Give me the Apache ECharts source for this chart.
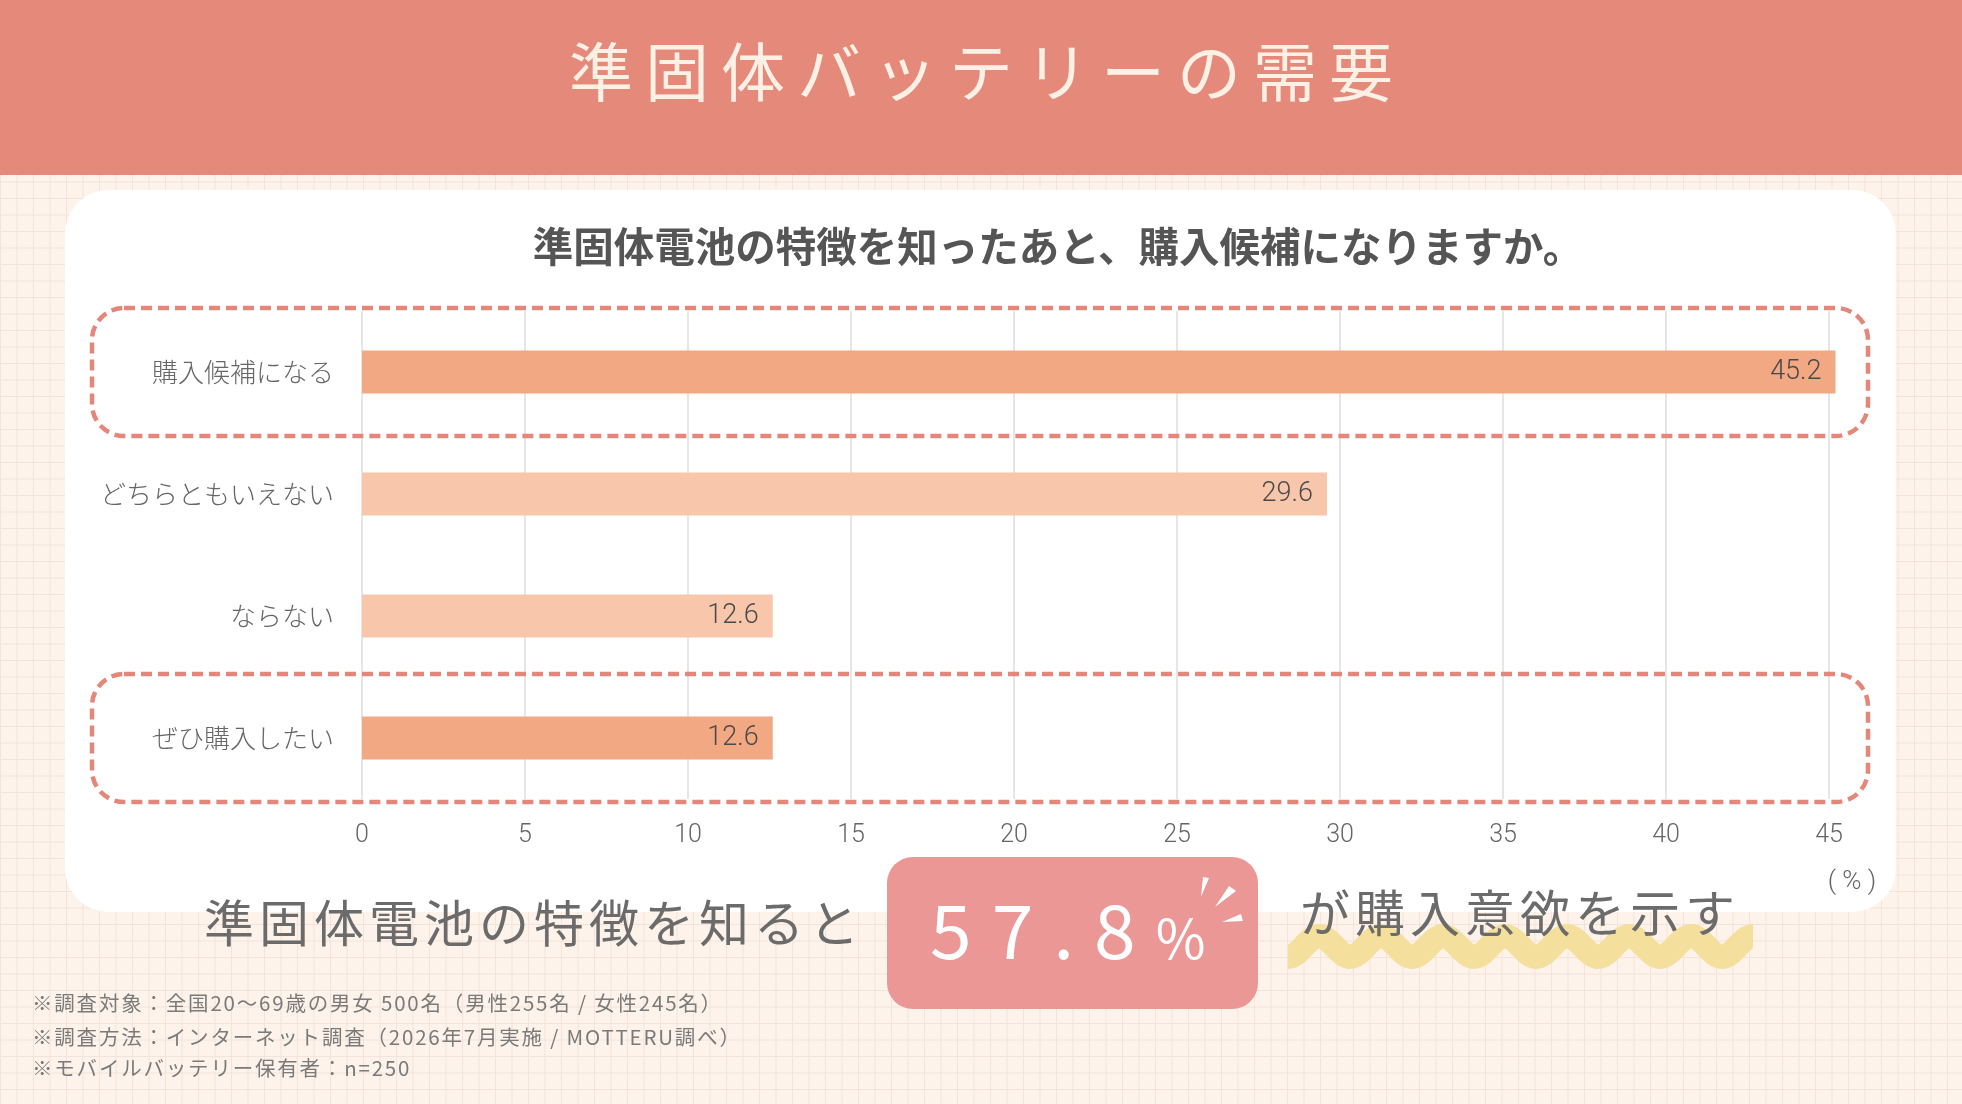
<!DOCTYPE html>
<html>
<head>
    <meta charset="utf-8">
    <title>準固体バッテリーの需要</title>
    <script src="https://cdn.jsdelivr.net/npm/echarts@6/dist/echarts.min.js"></script>
    <style>
        html, body { margin: 0; padding: 0; }
        body {
            width: 1962px; height: 1104px; position: relative; overflow: hidden;
            background-color: #fdf3ea;
            background-image:
                linear-gradient(to right, #f3e3da 1px, transparent 1px),
                linear-gradient(to bottom, #f3e3da 1px, transparent 1px);
            background-size: 16.5px 16.5px;
            font-family: 'Noto Sans CJK JP', 'Noto Sans', sans-serif;
        }
        .header { position: absolute; left: 0; top: 0; width: 1962px; height: 175px; background: #e5897b; }
        .card { position: absolute; left: 65px; top: 190px; width: 1831px; height: 722px; background: #fff; border-radius: 44px; }
        #chart { position: absolute; left: 0; top: 0; width: 1962px; height: 1104px; }
        .txt { position: absolute; white-space: nowrap; pointer-events: none; }
        .title { left: 0; top: 28px; width: 1962px; text-align: center; font-size: 64px; line-height: 80px;
                 font-weight: 400; letter-spacing: 12px; padding-left: 12px; box-sizing: border-box; color: #fdf0e4; }
        .lead { font-size: 50px; line-height: 60px; letter-spacing: 5px; color: #6b6b6b; }
        .big { left: 930px; top: 882px; font-size: 75px; line-height: 90px; letter-spacing: 20px; color: #fff; }
        .big span { font-size: 54px; line-height: 0; letter-spacing: 0; }
        .note { left: 32px; font-size: 20.5px; line-height: 32px; letter-spacing: 1.8px; color: #7a7a7a; }
    </style>
</head>
<body>
<div class="header"></div>
<div class="card"></div>
<div id="chart"></div>
<div class="txt title">準固体バッテリーの需要</div>
<div class="txt lead" style="left:204px;top:890px;">準固体電池の特徴を知ると</div>
<div class="txt big" id="bigNum"></div>
<div class="txt lead" style="left:1300px;top:880px;">が購入意欲を示す</div>
<div class="txt note" style="top:986px;">※調査対象：全国20〜69歳の男女 500名（男性255名 / 女性245名）</div>
<div class="txt note" style="top:1020px;">※調査方法：インターネット調査（2026年7月実施 / MOTTERU調べ）</div>
<div class="txt note" style="top:1051px;">※モバイルバッテリー保有者：n=250</div>

<script type="text/javascript">
    // データ
    var categories = ['購入候補になる', 'どちらともいえない', 'ならない', 'ぜひ購入したい'];
    var values = [45.2, 29.6, 12.6, 12.6];
    var highlighted = [true, false, false, true];
    var xMin = 0, xMax = 45, xStep = 5;

    var jpFont = "'Noto Sans CJK JP', 'Noto Sans', sans-serif";

    // 購入意欲 = 強調した回答の合計
    var total = 0;
    values.forEach(function (v, i) { if (highlighted[i]) total += v; });
    document.getElementById('bigNum').innerHTML = total.toFixed(1) + '<span>%</span>';

    var myChart = echarts.init(document.getElementById('chart'));
    myChart.setOption({
        animation: false,
        grid: { left: 362, right: 133, top: 311, bottom: 305 },
        xAxis: {
            type: 'value',
            min: xMin, max: xMax, interval: xStep,
            axisLine: { show: false },
            axisTick: { show: false },
            axisLabel: { color: '#666', fontSize: 25, fontFamily: 'Roboto', fontWeight: 300, margin: 24 },
            splitLine: { lineStyle: { color: '#dedede', width: 1.5 } }
        },
        yAxis: {
            type: 'category',
            inverse: true,
            data: categories,
            axisLine: { show: false },
            axisTick: { show: false },
            axisLabel: { color: '#666', fontSize: 26, fontFamily: jpFont, fontWeight: 300, margin: 28 }
        },
        series: [{
            type: 'bar',
            silent: true,
            clip: false,
            barWidth: 43,
            data: values.map(function (v, i) {
                return { value: v, itemStyle: { color: highlighted[i] ? '#f2a882' : '#f8c6aa' } };
            }),
            label: {
                show: true,
                position: 'insideRight',
                distance: 14,
                color: '#4a4a4a',
                fontSize: 27,
                fontFamily: 'Roboto',
                fontWeight: 300,
                formatter: function (p) { return p.value.toFixed(1); }
            }
        }]
    });

    // 装飾
    var graphics = [];

    graphics.push({
        type: 'text',
        style: {
            text: '準固体電池の特徴を知ったあと、購入候補になりますか。',
            x: 1058, y: 247, align: 'center', verticalAlign: 'middle',
            fill: '#555', fontSize: 40.5, fontWeight: 'bold', fontFamily: jpFont
        }
    });

    graphics.push({
        type: 'text',
        style: {
            text: '( % )', x: 1852, y: 882, align: 'center', verticalAlign: 'middle',
            fill: '#666', fontSize: 26, fontFamily: 'Roboto', fontWeight: 300
        }
    });

    // 強調する回答の点線枠
    categories.forEach(function (c, i) {
        if (!highlighted[i]) return;
        var cy = myChart.convertToPixel({ yAxisIndex: 0 }, c);
        graphics.push({
            type: 'rect',
            shape: { x: 92, y: cy - 64, width: 1776, height: 128, r: 32 },
            style: { fill: 'none', stroke: '#e5867a', lineWidth: 4.5, lineDash: [11, 6] }
        });
    });

    // ピンクの枠と白いキラキラ
    graphics.push({
        type: 'rect',
        shape: { x: 887, y: 857, width: 371, height: 152, r: 26 },
        style: { fill: '#eb9796' }
    });
    [
        [[1201, 897], [1203, 877], [1209, 878]],
        [[1215, 907], [1229, 886], [1236, 891]],
        [[1222, 922], [1241, 914], [1243, 921]]
    ].forEach(function (pts) {
        graphics.push({ type: 'polygon', shape: { points: pts }, style: { fill: '#fff' } });
    });

    // 黄色の波線（ベジェ曲線をつなぐ）
    var h = 31, yT = 957, yP = 936, x = 1288;
    for (var k = 0; k < 15; k++) {
        var y0 = k % 2 === 0 ? yT : yP;
        var y1 = k % 2 === 0 ? yP : yT;
        graphics.push({
            type: 'bezierCurve',
            z: -1,
            shape: {
                x1: x, y1: y0,
                cpx1: x + 0.3642 * h, cpy1: y0,
                cpx2: x + h - 0.3642 * h, cpy2: y1,
                x2: x + h + (k < 14 ? 0.5 : 0), y2: y1
            },
            style: { fill: 'none', stroke: '#f4e09c', lineWidth: 24, lineCap: 'butt' }
        });
        x += h;
    }

    myChart.setOption({ graphic: graphics });
</script>
</body>
</html>
